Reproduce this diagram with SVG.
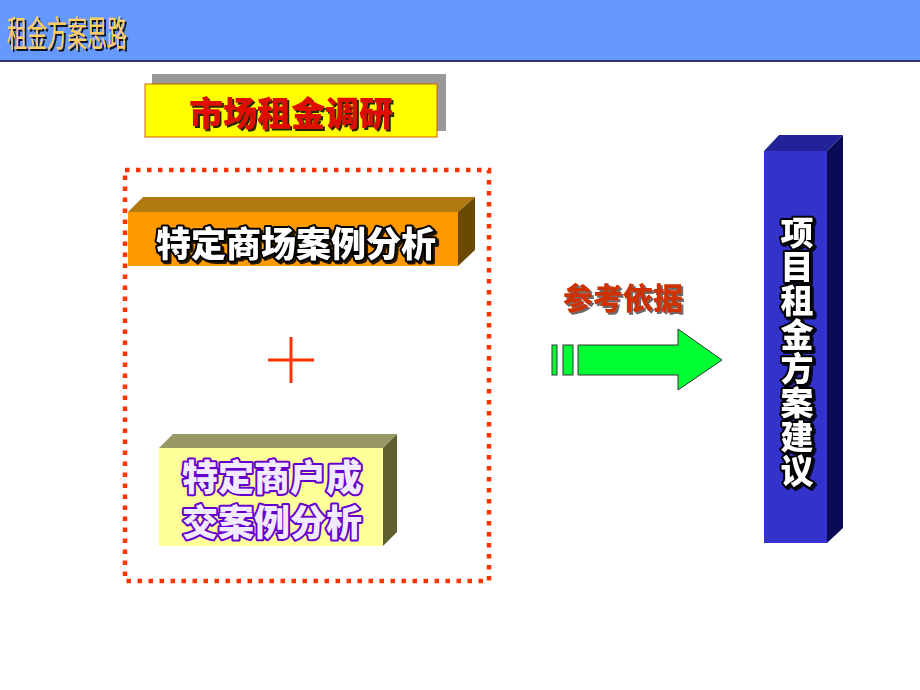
<svg xmlns="http://www.w3.org/2000/svg" width="920" height="690" viewBox="0 0 920 690">
<defs>
<filter id="shd" x="-10%" y="-20%" width="130%" height="150%">
<feDropShadow dx="2" dy="2" stdDeviation="0.4" flood-color="#000000" flood-opacity="0.85"/>
</filter>
<filter id="shd2" x="-10%" y="-20%" width="130%" height="150%">
<feDropShadow dx="2" dy="2" stdDeviation="0.4" flood-color="#444444" flood-opacity="0.8"/>
</filter>
</defs>
<style>
.cjk{font-family:"Noto Sans CJK SC","Noto Sans CJK JP",sans-serif;}
.outw{fill:#ffffff;stroke:#000000;stroke-width:4;paint-order:stroke;stroke-linejoin:round;filter:url(#shd);}
.outp{fill:#f2eaff;stroke:#6600cc;stroke-width:4;paint-order:stroke;stroke-linejoin:round;}
</style>
<rect x="0" y="0" width="920" height="690" fill="#ffffff"/>
<g id="header">
<rect x="0" y="0" width="920" height="60" fill="#6699ff"/>
<rect x="0" y="60" width="920" height="2" fill="#333366"/>
<text class="cjk" x="7" y="47" font-size="36" fill="#ffcc66" textLength="120" lengthAdjust="spacingAndGlyphs" filter="url(#shd)">租金方案思路</text>
</g>
<g id="market-research">
<rect x="152" y="74" width="294" height="57" fill="#999999"/>
<rect x="145" y="84" width="292" height="53" fill="#ffff00" stroke="#cc6600" stroke-width="1"/>
<text class="cjk" x="291" y="126" font-size="34" font-weight="900" text-anchor="middle" fill="#dd1100" filter="url(#shd)">市场租金调研</text>
</g>
<g id="group-box">
<rect x="125" y="170" width="364" height="411" fill="none" stroke="#ff3300" stroke-width="4.5" stroke-dasharray="4.5 6.5"/>
</g>
<g id="mall-case">
<polygon points="128,212 143,197 475,197 458,212" fill="#b07a10"/>
<polygon points="458,212 475,197 475,250 458,266" fill="#6a4a00"/>
<rect x="128" y="212" width="330" height="54" fill="#ff9900"/>
<text class="cjk outw" x="296" y="257" font-size="35" font-weight="900" text-anchor="middle">特定商场案例分析</text>
</g>
<g id="plus">
<line x1="268" y1="360" x2="314" y2="360" stroke="#ff3300" stroke-width="3"/>
<line x1="291" y1="337" x2="291" y2="383" stroke="#ff3300" stroke-width="3"/>
</g>
<g id="tenant-case">
<polygon points="159,448 173,434 397,434 383,448" fill="#999966"/>
<polygon points="383,448 397,434 397,532 383,546" fill="#5e5e30"/>
<rect x="159" y="448" width="224" height="98" fill="#ffff99"/>
<text class="cjk outp" x="272" y="491" font-size="36" font-weight="900" text-anchor="middle">特定商户成</text>
<text class="cjk outp" x="272" y="536" font-size="36" font-weight="900" text-anchor="middle">交案例分析</text>
</g>
<g id="connectors">
<text class="cjk" x="623" y="309" font-size="30" font-weight="900" text-anchor="middle" fill="#cc3300" filter="url(#shd2)">参考依据</text>
<rect x="552" y="345" width="5" height="30" fill="#00ff33" stroke="#333333" stroke-width="1"/>
<rect x="563" y="345" width="10" height="30" fill="#00ff33" stroke="#333333" stroke-width="1"/>
<polygon points="578,345 678,345 678,329 722,360 678,390 678,375 578,375" fill="#00ff33" stroke="#333333" stroke-width="1"/>
</g>
<g id="proposal">
<polygon points="764,151 779,135 843,135 827,151" fill="#222299"/>
<polygon points="827,151 843,135 843,528 827,543" fill="#0b0b55"/>
<rect x="764" y="151" width="63" height="392" fill="#3333cc"/>
<g class="cjk" font-size="33" font-weight="900" text-anchor="middle">
<text class="outw" x="797" y="245">项</text>
<text class="outw" x="797" y="279">目</text>
<text class="outw" x="797" y="313">租</text>
<text class="outw" x="797" y="347">金</text>
<text class="outw" x="797" y="381">方</text>
<text class="outw" x="797" y="415">案</text>
<text class="outw" x="797" y="449">建</text>
<text class="outw" x="797" y="483">议</text>
</g>
</g>
</svg>
